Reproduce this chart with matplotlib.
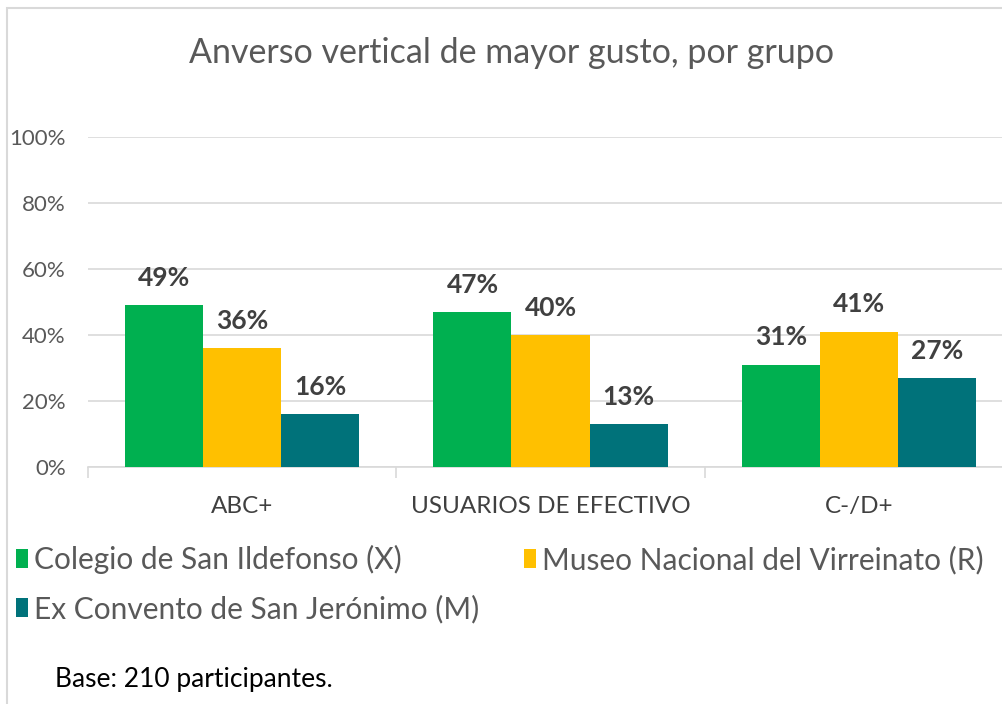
import matplotlib
matplotlib.use("Agg")
import matplotlib.pyplot as plt
from matplotlib.patches import Patch, Rectangle
import numpy as np

plt.rcParams['font.family'] = ['Lato', 'DejaVu Sans']

categorias = ['ABC+', 'USUARIOS DE EFECTIVO', 'C-/D+']
series = ['Colegio de San Ildefonso (X)', 'Museo Nacional del Virreinato (R)',
          'Ex Convento de San Jerónimo (M)']
colegio = [49, 47, 31]
museo = [36, 40, 41]
convento = [16, 13, 27]
colores = ['#00B050', '#FFC000', '#00727A']
yticks = [0, 20, 40, 60, 80, 100]

fig = plt.figure(figsize=(10.03, 7.04), dpi=100)
ax = fig.add_axes([88 / 1003, 237 / 704, 925 / 1003, 330 / 704])

x = np.arange(len(categorias))
ancho = 0.253
for i, (vals, col) in enumerate(zip([colegio, museo, convento], colores)):
    pos = x + (i - 1) * ancho
    ax.bar(pos, vals, width=ancho, color=col, zorder=3)
    for px, v in zip(pos, vals):
        ax.annotate(f'{v}%', (px, v), xytext=(0, 11), textcoords='offset points',
                    ha='center', va='bottom', fontsize=19, fontweight='bold',
                    color='#404040')

ax.set_xlim(-0.5, 2.5)
ax.set_ylim(0, 100)
ax.set_yticks(yticks)
ax.set_yticklabels([f'{t}%' for t in yticks], color='#595959', fontsize=16)
ax.yaxis.grid(True, color='#D9D9D9', linewidth=1.2, zorder=0)
ax.tick_params(axis='y', length=0, pad=16)
ax.set_xticks(x)
ax.set_xticklabels(categorias, color='#404040', fontsize=17.5)
ax.set_xticks([-0.5, 0.5, 1.5], minor=True)
ax.tick_params(axis='x', which='major', length=0, pad=21)
ax.tick_params(axis='x', which='minor', length=8, color='#D9D9D9', width=1.2)
for s in ['top', 'right', 'left']:
    ax.spines[s].set_visible(False)
ax.spines['bottom'].set_color('#D9D9D9')
ax.spines['bottom'].set_linewidth(1.2)

fig.text(0.51, 1 - 53 / 704, 'Anverso vertical de mayor gusto, por grupo', ha='center',
         va='center', fontsize=24.5, color='#595959')

# orden por filas: matplotlib llena la leyenda por columnas
orden = [0, 2, 1]
handles = [Patch(facecolor=colores[k]) for k in orden]
etiquetas = [series[k] for k in orden]
fig.legend(handles, etiquetas, ncol=2, loc='upper left', bbox_to_anchor=(16 / 1003, 1 - 545 / 704),
           frameon=False, fontsize=21.5, handlelength=0.4, handleheight=0.6,
           handletextpad=0.2, columnspacing=1.5, labelcolor='#595959',
           labelspacing=0.68, borderpad=0, borderaxespad=0)

fig.text(55 / 1003, 1 - 680 / 704, 'Base: 210 participantes.', ha='left',
         va='center', fontsize=19, color='black')

fig.patches.append(Rectangle((7 / 1003, -0.1), 1.2, 1 - 8 / 704 + 0.1,
                             transform=fig.transFigure, fill=False,
                             edgecolor='#D9D9D9', linewidth=1.5))

fig.savefig('out.png', dpi=100)
